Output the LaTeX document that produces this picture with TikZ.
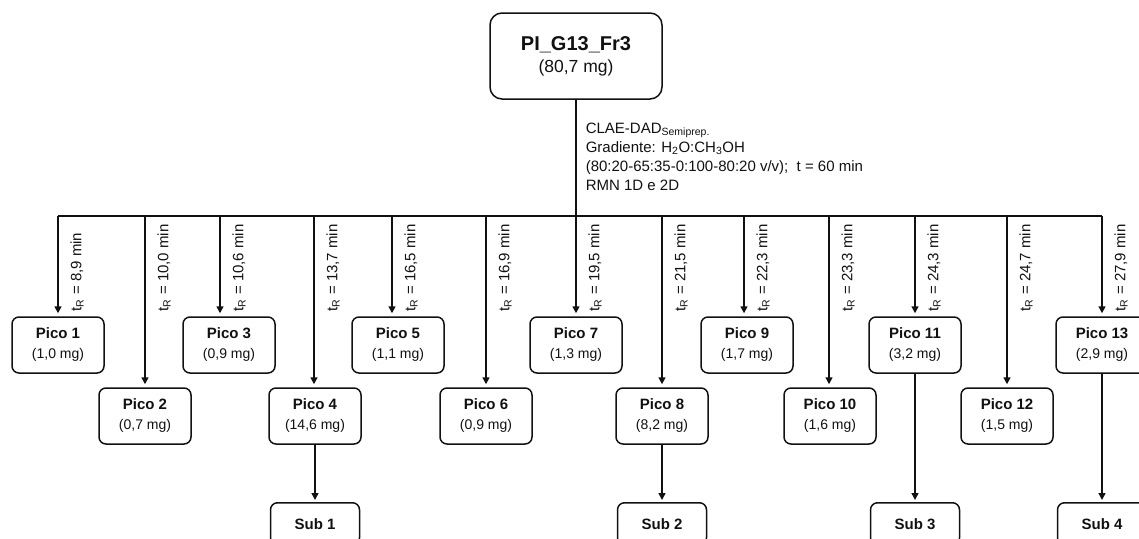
\documentclass[tikz,border=0pt]{standalone}
\usepackage{fontspec}
\setmainfont{Liberation Sans}
\usepackage{tikz}
\usetikzlibrary{arrows.meta}
\definecolor{cInk}{HTML}{111111}
\newcommand{\pico}[2]{\textbf{Pico #1}\\{\fontsize{14}{20}\selectfont(#2 mg)}}
\newcommand{\tret}[1]{t\textsubscript{R} = #1 min}

\begin{document}
\begin{tikzpicture}[x=1pt, y=-1pt, line width=1.5pt, draw=cInk, text=cInk,
    >={Triangle[length=7pt, width=7pt]},
    peak/.style={draw, rounded corners=7pt, minimum width=92pt, minimum height=56pt,
      inner sep=0pt, align=center, font=\fontsize{15}{20}\selectfont},
    subbox/.style={draw, rounded corners=7pt, minimum width=89pt, minimum height=42pt,
      inner sep=0pt, anchor=north, font=\fontsize{15}{20}\selectfont\bfseries},
    tr/.style={rotate=90, anchor=west, inner sep=0pt, font=\fontsize{15}{18}\selectfont},
    feed/.style={->, shorten >=3pt}]
    \useasboundingbox (0,0) rectangle (1139,538);
    \clip (0,0) rectangle (1139,538);
    \node[draw, rounded corners=12pt, minimum width=172pt, minimum height=86pt, inner sep=0pt,
      align=center, font=\fontsize{20}{22}\selectfont] (fr) at (576,56)
      {\textbf{PI\_G13\_Fr3}\\{\fontsize{17.5}{22}\selectfont(80,7 mg)}};
    \node[anchor=north west, align=left, inner sep=0pt, font=\fontsize{15}{19}\selectfont] (cond) at (585,122)
      {CLAE-DAD\textsubscript{Semiprep.}\\Gradiente: H\textsubscript{2}O:CH\textsubscript{3}OH\\
       (80:20-65:35-0:100-80:20 v/v);\ \ t = 60 min\\RMN 1D e 2D};
    \coordinate (b1) at (58,216); \coordinate (b13) at (1102,216); \coordinate (b7) at (576,216);
    \draw (fr) -- (b7);
    \draw (b1) -- (b13);
    \node[peak] (p1) at (58,345) {\pico{1}{1,0}};
    \draw[feed] (b1) -- (b1 |- p1.north); \node[tr] (t1) at (77,312) {\tret{8,9}};
    \coordinate (b2) at (145,216); \node[peak] (p2) at (145,416) {\pico{2}{0,7}};
    \draw[feed] (b2) -- (b2 |- p2.north); \node[tr] (t2) at (164,312) {\tret{10,0}};
    \coordinate (b3) at (220,216); \node[peak] (p3) at (229,345) {\pico{3}{0,9}};
    \draw[feed] (b3) -- (b3 |- p3.north); \node[tr] (t3) at (239,312) {\tret{10,6}};
    \coordinate (b4) at (314,216); \node[peak] (p4) at (315,416) {\pico{4}{14,6}};
    \draw[feed] (b4) -- (b4 |- p4.north); \node[tr] (t4) at (333,312) {\tret{13,7}};
    \coordinate (b5) at (392,216); \node[peak] (p5) at (398,345) {\pico{5}{1,1}};
    \draw[feed] (b5) -- (b5 |- p5.north); \node[tr] (t5) at (411,312) {\tret{16,5}};
    \coordinate (b6) at (486,216); \node[peak] (p6) at (486,416) {\pico{6}{0,9}};
    \draw[feed] (b6) -- (b6 |- p6.north); \node[tr] (t6) at (505,312) {\tret{16,9}};
    \node[peak] (p7) at (576,345) {\pico{7}{1,3}};
    \draw[feed] (b7) -- (b7 |- p7.north); \node[tr] (t7) at (595,312) {\tret{19,5}};
    \coordinate (b8) at (662,216); \node[peak] (p8) at (662,416) {\pico{8}{8,2}};
    \draw[feed] (b8) -- (b8 |- p8.north); \node[tr] (t8) at (681,312) {\tret{21,5}};
    \coordinate (b9) at (744,216); \node[peak] (p9) at (747,345) {\pico{9}{1,7}};
    \draw[feed] (b9) -- (b9 |- p9.north); \node[tr] (t9) at (763,312) {\tret{22,3}};
    \coordinate (b10) at (829,216); \node[peak] (p10) at (830,416) {\pico{10}{1,6}};
    \draw[feed] (b10) -- (b10 |- p10.north); \node[tr] (t10) at (848,312) {\tret{23,3}};
    \coordinate (b11) at (915,216); \node[peak] (p11) at (915,345) {\pico{11}{3,2}};
    \draw[feed] (b11) -- (b11 |- p11.north); \node[tr] (t11) at (934,312) {\tret{24,3}};
    \coordinate (b12) at (1007,216); \node[peak] (p12) at (1007,416) {\pico{12}{1,5}};
    \draw[feed] (b12) -- (b12 |- p12.north); \node[tr] (t12) at (1026,312) {\tret{24,7}};
    \node[peak] (p13) at (1102,345) {\pico{13}{2,9}};
    \draw[feed] (b13) -- (b13 |- p13.north); \node[tr] (t13) at (1121,312) {\tret{27,9}};
    \node[subbox] (s1) at (315,502) {Sub 1};
    \node[subbox] (s2) at (662,502) {Sub 2};
    \node[subbox] (s3) at (915,502) {Sub 3};
    \node[subbox] (s4) at (1102,502) {Sub 4};
    \draw[->, shorten >=2pt] (p4) -- (s1);
    \draw[->, shorten >=2pt] (p8) -- (s2);
    \draw[->, shorten >=2pt] (p11) -- (s3);
    \draw[->, shorten >=2pt] (p13) -- (s4);
\end{tikzpicture}
\end{document}
